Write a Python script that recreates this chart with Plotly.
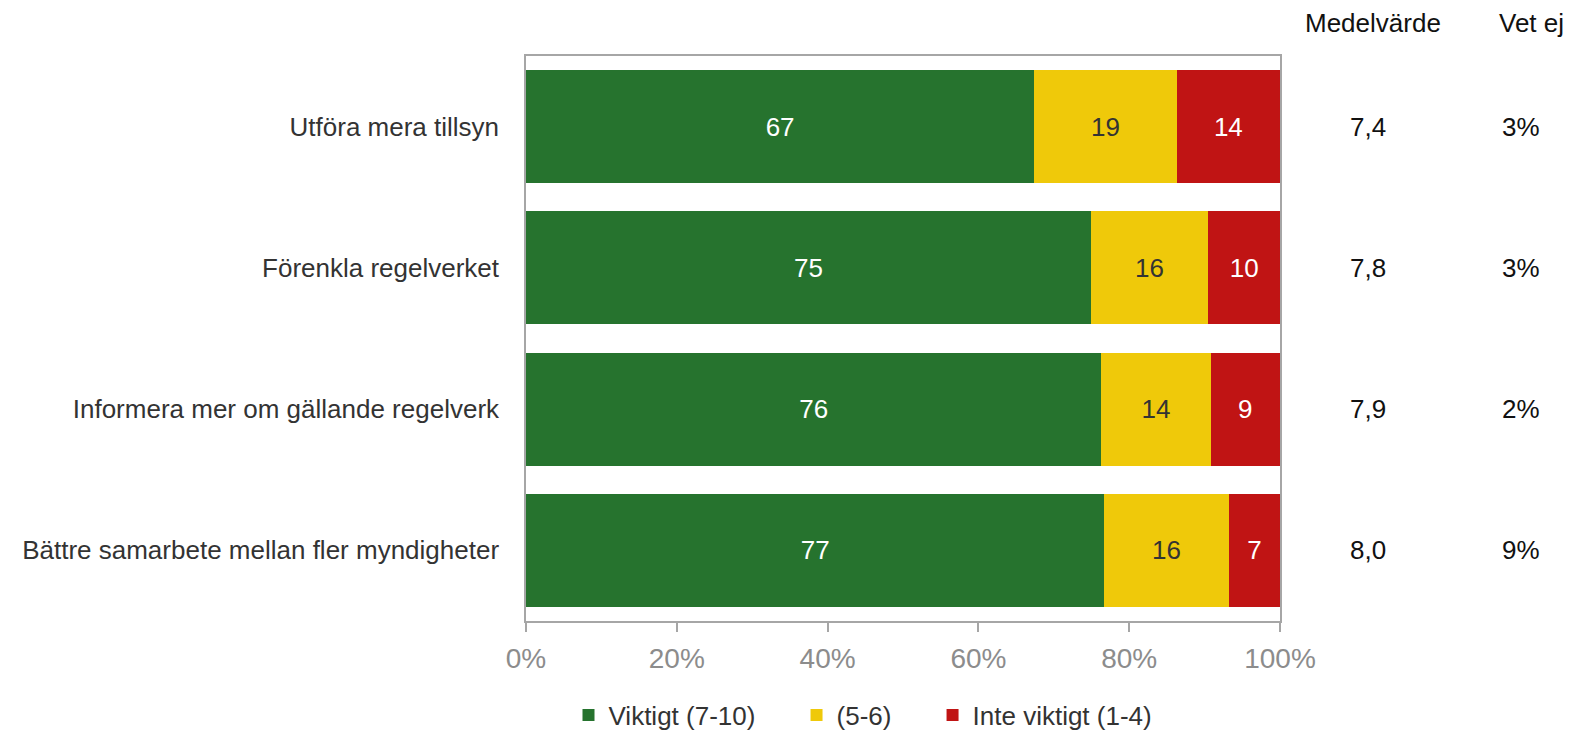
import plotly.graph_objects as go

categories = ["Utföra mera tillsyn", "Förenkla regelverket",
              "Informera mer om gällande regelverk",
              "Bättre samarbete mellan fler myndigheter"]
viktigt = [67.4, 74.9, 76.3, 76.7]
mellan = [18.9, 15.6, 14.5, 16.5]
inte_viktigt = [13.7, 9.5, 9.2, 6.8]
lab_viktigt = ["67", "75", "76", "77"]
lab_mellan = ["19", "16", "14", "16"]
lab_inte = ["14", "10", "9", "7"]
medelvarde = ["7,4", "7,8", "7,9", "8,0"]
vet_ej = ["3%", "3%", "2%", "9%"]
tick_vals = [0, 20, 40, 60, 80, 100]
tick_text = ["0%", "20%", "40%", "60%", "80%", "100%"]

FONT = "Liberation Sans, Arial, sans-serif"

# page body has an 8px margin, so the figure is drawn 8px smaller and shifted
OFF = 8
PL, PR, PT, PB = 526, 1280, 56, 621  # plot box in window pixels
W, H = 1583 - OFF, 733 - OFF

fig = go.Figure()
NB = "\u00a0" * 5
series = [
    ("Viktigt (7-10)" + NB, viktigt, lab_viktigt, "#26732E", "white"),
    ("(5-6)" + NB, mellan, lab_mellan, "#EFC90A", "#333333"),
    ("Inte viktigt (1-4)", inte_viktigt, lab_inte, "#C01414", "white"),
]
for name, vals, labs, col, tcol in series:
    fig.add_trace(go.Bar(
        y=categories, x=vals, name=name, orientation="h",
        marker=dict(color=col, line=dict(width=0)),
        text=labs, textposition="inside", insidetextanchor="middle",
        textfont=dict(family=FONT, size=26, color=tcol),
        textangle=0, hoverinfo="skip",
    ))

pw, ph = PR - PL, PB - PT
anns = []
for txt, x, y in [("Medelvärde", 1373, 23), ("Vet ej", 1531, 23)]:
    anns.append(dict(text=txt, xref="paper", yref="paper",
                     x=(x - PL) / pw, y=1 + (PT - y) / ph,
                     showarrow=False, xanchor="center", yanchor="middle",
                     font=dict(family=FONT, size=26, color="#111111")))
for cat, m, v in zip(categories, medelvarde, vet_ej):
    anns.append(dict(text=m, xref="paper", yref="y", x=(1368 - PL) / pw, y=cat,
                     showarrow=False, xanchor="center", yanchor="middle",
                     font=dict(family=FONT, size=26, color="#111111")))
    anns.append(dict(text=v, xref="paper", yref="y", x=(1521 - PL) / pw, y=cat,
                     showarrow=False, xanchor="center", yanchor="middle",
                     font=dict(family=FONT, size=26, color="#111111")))

fig.update_layout(
    width=W, height=H,
    barmode="stack", bargap=0.2,
    plot_bgcolor="white", paper_bgcolor="white",
    margin=dict(l=PL - OFF, r=W - (PR - OFF), t=PT - OFF, b=H - (PB - OFF),
                pad=0, autoexpand=False),
    xaxis=dict(range=[0, 100], tickvals=tick_vals, ticktext=tick_text,
               showgrid=False, zeroline=False, showline=True, mirror=True,
               linecolor="#A6A6A6", linewidth=1.5,
               ticks="outside", ticklen=9, tickcolor="#A6A6A6", tickwidth=1.5,
               ticklabelstandoff=3,
               tickfont=dict(family=FONT, size=28, color="#8C8C8C")),
    yaxis=dict(autorange="reversed", showgrid=False, zeroline=False,
               showline=True, mirror=True, linecolor="#A6A6A6", linewidth=1.5,
               ticks="", ticklabelstandoff=20,
               tickfont=dict(family=FONT, size=26, color="#333333")),
    legend=dict(orientation="h", x=(863 - PL) / pw, xanchor="center",
                y=-(715 - PB) / ph, yanchor="middle",
                font=dict(family=FONT, size=26, color="#333333"),
                itemwidth=30, traceorder="normal", tracegroupgap=0),
    annotations=anns,
)

fig.write_html("out.html")
